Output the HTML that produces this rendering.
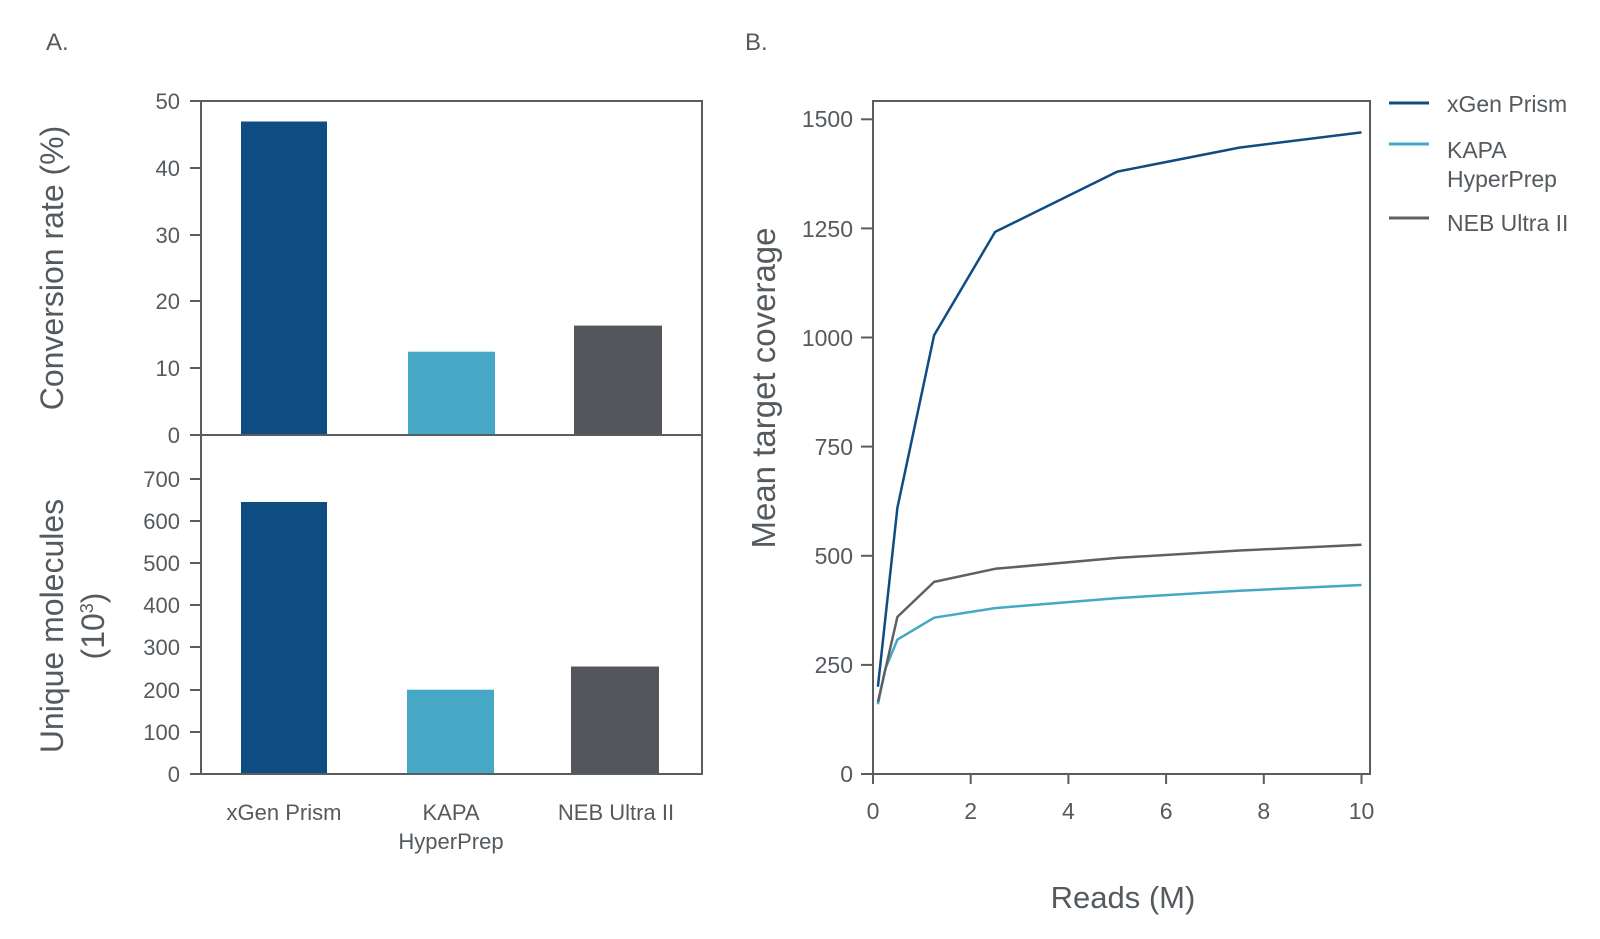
<!DOCTYPE html>
<html><head><meta charset="utf-8"><style>
html,body{margin:0;padding:0;background:#fff;}
svg{display:block;font-family:"Liberation Sans",sans-serif;}
</style></head><body>
<svg width="1600" height="939" viewBox="0 0 1600 939" xmlns="http://www.w3.org/2000/svg">
<g fill="#555a5e">
<text x="46" y="50" font-size="24">A.</text>
<text x="745" y="50" font-size="24">B.</text>
</g>
<g>
<rect x="241" y="121.5" width="86" height="313.5" fill="#0f4c82"/>
<rect x="408" y="351.7" width="87" height="83.3" fill="#46a8c4"/>
<rect x="574" y="325.6" width="88" height="109.4" fill="#53565a"/>
<rect x="241" y="502" width="86" height="272" fill="#0f4c82"/>
<rect x="407" y="689.7" width="87" height="84.3" fill="#46a8c4"/>
<rect x="571" y="666.5" width="88" height="107.5" fill="#53565a"/>
</g>
<g stroke="#5a5d60" stroke-width="2" fill="none">
<rect x="201" y="101" width="501" height="673"/>
<line x1="201" y1="435" x2="702" y2="435"/>
<line x1="190" y1="101" x2="201" y2="101"/>
<line x1="190" y1="168" x2="201" y2="168"/>
<line x1="190" y1="235" x2="201" y2="235"/>
<line x1="190" y1="301" x2="201" y2="301"/>
<line x1="190" y1="368" x2="201" y2="368"/>
<line x1="190" y1="435" x2="201" y2="435"/>
<line x1="190" y1="479" x2="201" y2="479"/>
<line x1="190" y1="521" x2="201" y2="521"/>
<line x1="190" y1="563" x2="201" y2="563"/>
<line x1="190" y1="605" x2="201" y2="605"/>
<line x1="190" y1="647" x2="201" y2="647"/>
<line x1="190" y1="690" x2="201" y2="690"/>
<line x1="190" y1="732" x2="201" y2="732"/>
<line x1="190" y1="774" x2="201" y2="774"/>
</g>
<g fill="#555a5e" font-size="22" text-anchor="end">
<text x="180" y="109">50</text>
<text x="180" y="176">40</text>
<text x="180" y="243">30</text>
<text x="180" y="309">20</text>
<text x="180" y="376">10</text>
<text x="180" y="443">0</text>
<text x="180" y="487">700</text>
<text x="180" y="529">600</text>
<text x="180" y="571">500</text>
<text x="180" y="613">400</text>
<text x="180" y="655">300</text>
<text x="180" y="698">200</text>
<text x="180" y="740">100</text>
<text x="180" y="782">0</text>
</g>
<g fill="#555a5e" font-size="22" text-anchor="middle">
<text x="284" y="820">xGen Prism</text>
<text x="451" y="820">KAPA</text>
<text x="451" y="849">HyperPrep</text>
<text x="616" y="820">NEB Ultra II</text>
</g>
<g fill="#555a5e" text-anchor="middle">
<text font-size="32" transform="translate(63,268) rotate(-90)">Conversion rate (%)</text>
<text font-size="32" transform="translate(63,626) rotate(-90)">Unique molecules</text>
<text font-size="32" transform="translate(104,626) rotate(-90)">(10<tspan font-size="18" dy="-11">3</tspan><tspan dy="11">)</tspan></text>
<text font-size="33" transform="translate(775,388) rotate(-90)">Mean target coverage</text>
<text font-size="31" x="1123" y="908">Reads (M)</text>
</g>
<g stroke="#5a5d60" stroke-width="2" fill="none">
<rect x="873" y="101" width="497" height="673"/>
<line x1="861" y1="774" x2="873" y2="774"/>
<line x1="861" y1="664.9" x2="873" y2="664.9"/>
<line x1="861" y1="555.8" x2="873" y2="555.8"/>
<line x1="861" y1="446.6" x2="873" y2="446.6"/>
<line x1="861" y1="337.5" x2="873" y2="337.5"/>
<line x1="861" y1="228.4" x2="873" y2="228.4"/>
<line x1="861" y1="119.3" x2="873" y2="119.3"/>
<line x1="873" y1="774" x2="873" y2="784"/>
<line x1="970.7" y1="774" x2="970.7" y2="784"/>
<line x1="1068.4" y1="774" x2="1068.4" y2="784"/>
<line x1="1166.1" y1="774" x2="1166.1" y2="784"/>
<line x1="1263.8" y1="774" x2="1263.8" y2="784"/>
<line x1="1361.5" y1="774" x2="1361.5" y2="784"/>
</g>
<g fill="#555a5e" font-size="23" text-anchor="end">
<text x="853" y="782">0</text>
<text x="853" y="673">250</text>
<text x="853" y="564">500</text>
<text x="853" y="455">750</text>
<text x="853" y="346">1000</text>
<text x="853" y="237">1250</text>
<text x="853" y="127">1500</text>
</g>
<g fill="#555a5e" font-size="23" text-anchor="middle">
<text x="873" y="819">0</text>
<text x="970.7" y="819">2</text>
<text x="1068.4" y="819">4</text>
<text x="1166.1" y="819">6</text>
<text x="1263.8" y="819">8</text>
<text x="1361.5" y="819">10</text>
</g>
<g fill="none" stroke-width="2.5" stroke-linejoin="round">
<polyline stroke="#46a8c4" points="877.9,704.2 885.2,669.2 897.4,639.6 934.1,617.7 995.1,608.1 1117.3,598.1 1239.4,590.7 1361.5,585.0"/>
<polyline stroke="#5e6064" points="877.9,702.0 897.4,616.9 934.1,581.9 995.1,568.8 1117.3,557.9 1239.4,550.5 1361.5,544.8"/>
<polyline stroke="#0f4c82" points="877.9,686.7 897.4,507.7 934.1,335.3 995.1,231.9 1117.3,171.6 1239.4,147.6 1361.5,132.4"/>
</g>
<g stroke-width="3">
<line x1="1389" y1="103" x2="1429" y2="103" stroke="#0f4c82"/>
<line x1="1389" y1="144" x2="1429" y2="144" stroke="#46a8c4"/>
<line x1="1389" y1="218" x2="1429" y2="218" stroke="#5e6064"/>
</g>
<g fill="#555a5e" font-size="23">
<text x="1447" y="112">xGen Prism</text>
<text x="1447" y="158">KAPA</text>
<text x="1447" y="187">HyperPrep</text>
<text x="1447" y="231">NEB Ultra II</text>
</g>
</svg>
</body></html>
